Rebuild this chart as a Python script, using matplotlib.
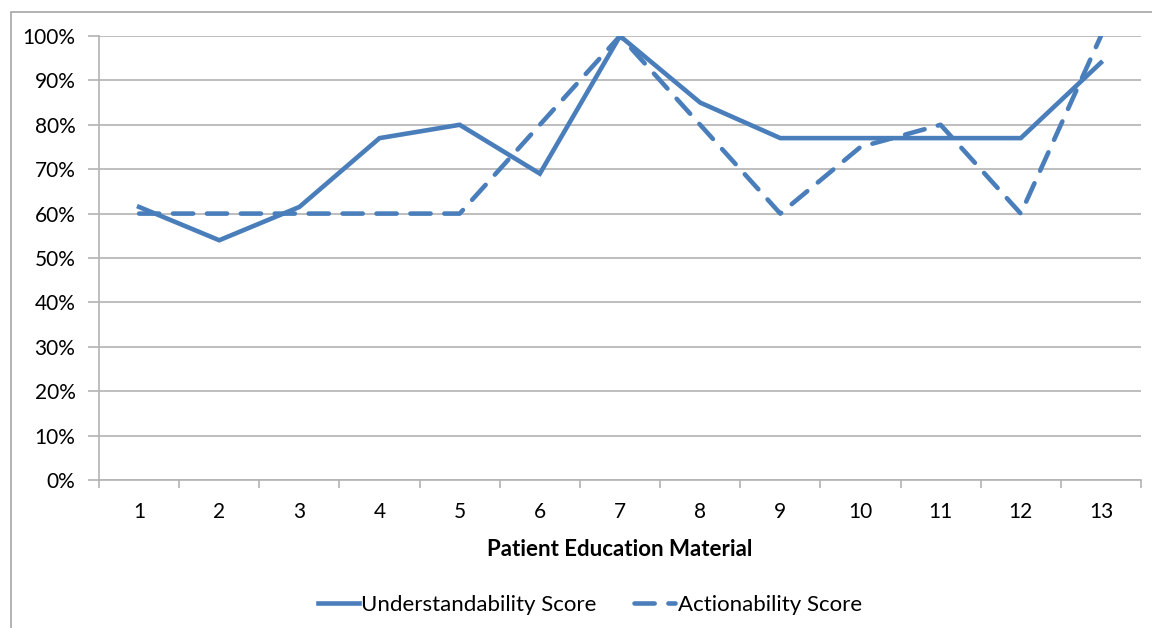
import matplotlib.pyplot as plt
import matplotlib.patches as patches
from matplotlib.ticker import FixedLocator, PercentFormatter

materials = list(range(1, 14))
understandability = [61.5, 54, 61.5, 77, 80, 69, 100, 85, 77, 77, 77, 77, 94]
actionability = [60, 60, 60, 60, 60, 80, 100, 80, 60, 75, 80, 60, 100]

blue = '#4a7ebb'
grid_grey = '#b3b3b3'

plt.rcParams['font.family'] = ['Lato', 'DejaVu Sans']

fig = plt.figure(figsize=(11.52, 6.28), dpi=100)
ax = fig.add_axes([99 / 1152, 1 - 480 / 628, (1141 - 99) / 1152, (480 - 36) / 628])

# outer chart frame (right and bottom edges run off the canvas)
fig.patches.append(patches.Rectangle((11 / 1152, -0.1), 1.2, 1.1 - 12 / 628,
                                     transform=fig.transFigure, fill=False,
                                     edgecolor='#a6a6a6', linewidth=1.2))

ax.plot(materials, understandability, color=blue, linewidth=3.3,
        solid_joinstyle='miter', label='Understandability Score')
ax.plot(materials, actionability, color=blue, linewidth=3.3,
        dashes=(4.4, 3.0), dash_capstyle='round',
        label='Actionability Score')

ax.set_xlim(0.5, 13.5)
ax.set_ylim(0, 100)
ax.set_yticks(range(0, 101, 10))
ax.yaxis.set_major_formatter(PercentFormatter(decimals=0))
ax.set_xticks(materials)
ax.xaxis.set_minor_locator(FixedLocator([i + 0.5 for i in range(0, 14)]))
ax.tick_params(axis='x', which='major', length=0, pad=16, labelsize=15)
ax.tick_params(axis='x', which='minor', length=6, width=1.2, color=grid_grey)
ax.tick_params(axis='y', length=8, width=1.2, color=grid_grey, pad=9, labelsize=15)

ax.grid(axis='y', color=grid_grey, linewidth=1.2)
ax.set_axisbelow(True)
for side in ('top', 'right'):
    ax.spines[side].set_visible(False)
for side in ('left', 'bottom'):
    ax.spines[side].set_color(grid_grey)
    ax.spines[side].set_linewidth(1.2)

ax.set_xlabel('Patient Education Material', fontsize=16, fontweight='bold', labelpad=12)

fig.legend(loc='center', bbox_to_anchor=(0.512, 1 - 605 / 628), ncol=2,
           frameon=False, fontsize=16, handlelength=1.85, handletextpad=0.1,
           columnspacing=1.7)

fig.savefig('out.png', dpi=100)
